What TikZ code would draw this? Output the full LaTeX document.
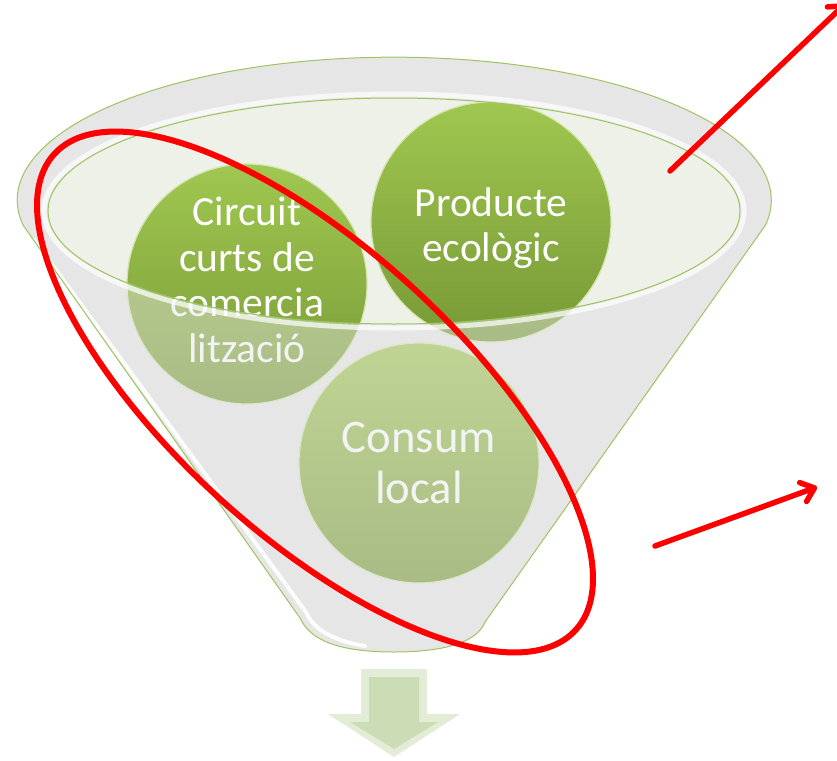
\documentclass[tikz,border=0pt]{standalone}
\usepackage{fontspec}
\setmainfont{Carlito}
\usepackage{tikz}
\usetikzlibrary {arrows.meta}

\definecolor{rimgreen}{RGB}{158,196,96}
\definecolor{glassgray}{RGB}{230,230,230}
\definecolor{bowlgreen}{RGB}{237,241,231}
\definecolor{balltop}{RGB}{160,199,80}
\definecolor{ballbottom}{RGB}{119,153,54}
\definecolor{downgreen}{RGB}{204,220,181}

% 漏斗の外形
\newcommand{\funnelbody}{(23,225) arc[start angle=170, end angle=370, x radius=377, y radius=143] -- (485,622) .. controls (478,640) and (450,652) .. (394,652) .. controls (338,652) and (310,640) .. (300,618) -- cycle}

\begin{document}
\begin{tikzpicture}[x=1pt, y=-1pt,
    ball/.style={circle, minimum size=240pt, inner sep=0pt, top color=balltop, bottom color=ballbottom, draw=balltop!45!white, line width=1.2pt},
    balltext/.style={text=white, align=center, inner sep=0pt, font=\fontsize{41.5}{45.6}\selectfont},
    redline/.style={red, line width=6pt, line cap=round}]
        \useasboundingbox (0,0) rectangle (837,760);

        % 漏斗（奥）
        \fill[glassgray] \funnelbody;
        \fill[bowlgreen] (394,211) ellipse[x radius=346, y radius=113];

        % 円
        \node[ball] (circuit) at (247,284) {};
        \node[balltext] (circuit text) at (247,280) {Circuit\\curts de\\comercia\\lització};
        \node[ball] (producte) at (491,222) {};
        \node[balltext] (producte text) at (491,228) {Producte\\ecològic};
        \node[ball] (consum) at (419,463) {};
        \node[balltext, font=\fontsize{46.7}{51.3}\selectfont] (consum text) at (419,463) {Consum\\local};

        % 漏斗（手前）
        \fill[glassgray, opacity=0.45, even odd rule] \funnelbody (394,211) ellipse[x radius=346, y radius=113];
        \draw[white, line width=5pt, opacity=0.7] (394,211) ellipse[x radius=350, y radius=117];
        \draw[rimgreen, line width=1pt] (394,211) ellipse[x radius=346, y radius=113];
        \draw[white, line width=4pt, opacity=0.9, line cap=round] (34,240) -- (306,612) .. controls (313,628) and (330,640) .. (365,646);
        \draw[rimgreen, line width=1pt] \funnelbody;

        % 下向きの矢印
        \fill[downgreen!55!white] (361,669) -- (427,669) -- (427,714) -- (460,714) -- (394,757) -- (328,714) -- (361,714) -- cycle;
        \fill[downgreen] (369,677) -- (419,677) -- (419,722) -- (438,722) -- (394,749) -- (350,722) -- (369,722) -- cycle;

        % 赤い線
        \draw[redline, rotate around={-42.4:(315,392)}] (315,392) ellipse[x radius=353, y radius=143];
        \coordinate (top start) at (670,171);
        \coordinate (top end) at (845,4);
        \coordinate (side start) at (655,546);
        \coordinate (side end) at (817,487);
        \draw[redline, line width=5.5pt, -{Straight Barb[length=12pt, width=20pt, round]}] (top start) -- (top end);
        \draw[redline, line width=5.5pt, -{Straight Barb[length=12pt, width=20pt, round]}] (side start) -- (side end);
      \end{tikzpicture}
\end{document}
